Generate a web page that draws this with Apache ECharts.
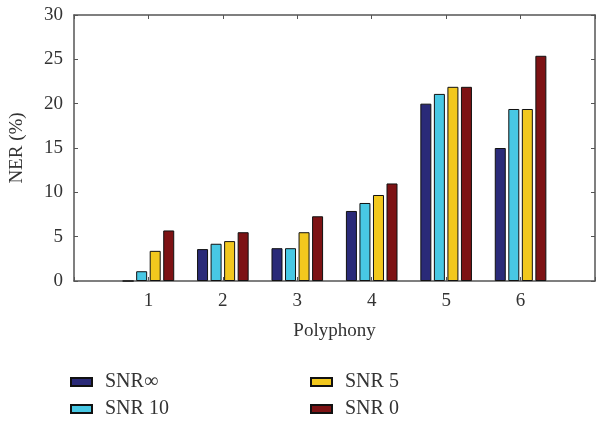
<!DOCTYPE html>
<html>
<head>
<meta charset="utf-8">
<script src="https://cdn.jsdelivr.net/npm/echarts@6/dist/echarts.min.js"></script>
<style>
html, body { margin: 0; padding: 0; background: #fff; }
#Mycharts { width: 598px; height: 421px; }
</style>
</head>
<body>
<div id="Mycharts"></div>
<script>
// polyphony levels and NER (%) per noise condition
const categories = [1, 2, 3, 4, 5, 6]
const snrInf = [0, 3.6, 3.7, 7.9, 20.0, 15.0]
const snr10 = [1.1, 4.2, 3.7, 8.8, 21.1, 19.4]
const snr5 = [3.4, 4.5, 5.5, 9.7, 21.9, 19.4]
const snr0 = [5.7, 5.5, 7.3, 11.0, 21.9, 25.4]
const yTicks = [0, 5, 10, 15, 20, 25, 30]

const font = 'Liberation Serif'
const axisColor = '#555'

function pairs (vals) {
  return categories.map((c, i) => [c, vals[i]])
}

function barSeries (name, vals, color) {
  return {
    name: name,
    type: 'bar',
    barWidth: 11,
    barGap: '23%',
    itemStyle: { color: color, borderColor: '#111', borderWidth: 1 },
    data: pairs(vals)
  }
}

function legendCol (left, names) {
  return {
    orient: 'vertical',
    left: left,
    top: 372,
    height: 60,
    padding: 0,
    icon: 'rect',
    itemWidth: 21,
    itemHeight: 8,
    itemGap: 7,
    textStyle: { fontFamily: font, fontSize: 20, color: '#333', padding: [0, 0, 0, 8] },
    data: names
  }
}

// axis line + inward ticks, shared by all four sides
const frameLine = { show: true, onZero: false, lineStyle: { color: axisColor, width: 1.5 } }
const frameTick = { show: true, inside: true, length: 4, lineStyle: { color: axisColor } }

let Mycharts = echarts.init(document.getElementById('Mycharts'))
Mycharts.setOption({
  animation: false,
  textStyle: { fontFamily: font },
  grid: { left: 71, right: 1, top: 15, bottom: 140 },
  legend: [
    legendCol(70, ['SNR∞', 'SNR 10']),
    legendCol(310, ['SNR 5', 'SNR 0'])
  ],
  xAxis: [
    {
      type: 'value',
      min: 0,
      max: 7,
      interval: 1,
      position: 'bottom',
      name: 'Polyphony',
      nameLocation: 'middle',
      nameGap: 41,
      nameTextStyle: { fontFamily: font, fontSize: 19, color: '#333' },
      splitLine: { show: false },
      axisLine: frameLine,
      axisTick: frameTick,
      axisLabel: {
        margin: 11,
        fontFamily: font,
        fontSize: 19,
        color: '#333',
        formatter: v => (categories.indexOf(v) >= 0 ? String(v) : '')
      }
    },
    {
      type: 'value',
      min: 0,
      max: 7,
      interval: 1,
      position: 'top',
      splitLine: { show: false },
      axisLine: frameLine,
      axisTick: frameTick,
      axisLabel: { show: false }
    }
  ],
  yAxis: [
    {
      type: 'value',
      min: yTicks[0],
      max: yTicks[yTicks.length - 1],
      interval: 5,
      position: 'left',
      name: 'NER (%)',
      nameLocation: 'middle',
      nameGap: 47,
      nameTextStyle: { fontFamily: font, fontSize: 19, color: '#333' },
      splitLine: { show: false },
      axisLine: frameLine,
      axisTick: frameTick,
      axisLabel: { margin: 11, fontFamily: font, fontSize: 19, color: '#333' }
    },
    {
      type: 'value',
      min: yTicks[0],
      max: yTicks[yTicks.length - 1],
      interval: 5,
      position: 'right',
      splitLine: { show: false },
      axisLine: frameLine,
      axisTick: frameTick,
      axisLabel: { show: false }
    }
  ],
  series: [
    barSeries('SNR∞', snrInf, '#2a2a78'),
    barSeries('SNR 10', snr10, '#48c8e4'),
    barSeries('SNR 5', snr5, '#f2c81e'),
    barSeries('SNR 0', snr0, '#7d1214')
  ]
})
</script>
</body>
</html>
